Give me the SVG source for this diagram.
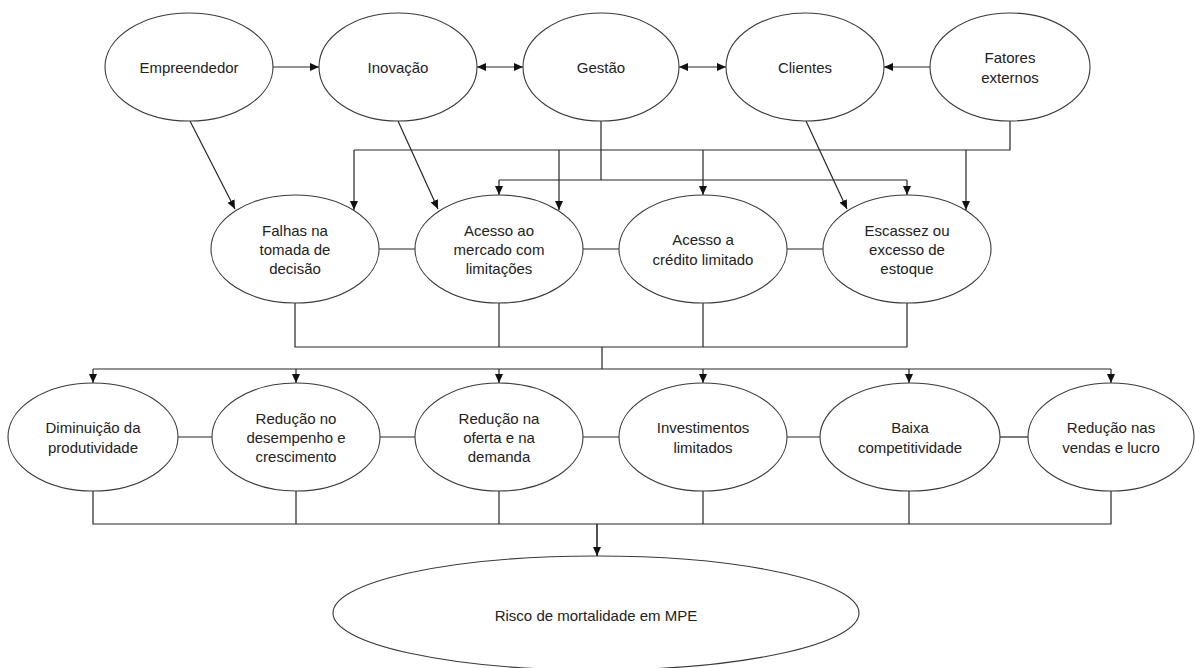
<svg xmlns="http://www.w3.org/2000/svg" width="1195" height="668" viewBox="0 0 1195 668">
<defs>
<marker id="ah" markerWidth="9" markerHeight="8" refX="9" refY="4" orient="auto-start-reverse" markerUnits="userSpaceOnUse">
<path d="M0,0 L9,4 L0,8 Z" fill="#111"/>
</marker>
<style>
.n ellipse{fill:#fff;stroke:#3a3a3a;stroke-width:1.1}
.n text{font-family:"Liberation Sans",Arial,sans-serif;font-size:15px;fill:#222;text-anchor:middle;dominant-baseline:central}
#connectors path,#connectors line{fill:none;stroke:#262626;stroke-width:1.2}
.a{marker-end:url(#ah)}
.b{marker-start:url(#ah);marker-end:url(#ah)}
</style>
</defs>
<rect width="1195" height="668" fill="#fff"/>
<g id="connectors">
<line class="a" x1="273" y1="67" x2="319" y2="67"/>
<line class="b" x1="477" y1="67" x2="523" y2="67"/>
<line class="b" x1="679" y1="67" x2="726" y2="67"/>
<line class="a" x1="930" y1="67" x2="884" y2="67"/>
<line class="a" x1="190" y1="121" x2="235" y2="209"/>
<line class="a" x1="398" y1="121" x2="438" y2="209"/>
<line class="a" x1="806" y1="121" x2="847" y2="209"/>
<path d="M1010,121 V150 H354"/>
<line class="a" x1="354" y1="150" x2="354" y2="210"/>
<line class="a" x1="559" y1="150" x2="559" y2="210"/>
<line class="a" x1="703" y1="150" x2="703" y2="195"/>
<line class="a" x1="966" y1="150" x2="966" y2="210"/>
<path d="M601,121 V180"/>
<line x1="499" y1="180" x2="907" y2="180"/>
<line class="a" x1="499" y1="180" x2="499" y2="195"/>
<line class="a" x1="907" y1="180" x2="907" y2="195"/>
<line x1="379" y1="249" x2="415" y2="249"/>
<line x1="583" y1="249" x2="619" y2="249"/>
<line x1="787" y1="249" x2="823" y2="249"/>
<path d="M295,303 V347 H907 V303"/>
<line x1="499" y1="303" x2="499" y2="347"/>
<line x1="703" y1="303" x2="703" y2="347"/>
<line x1="602" y1="347" x2="602" y2="369"/>
<line x1="93" y1="369" x2="1111" y2="369"/>
<line class="a" x1="93" y1="369" x2="93" y2="383"/>
<line class="a" x1="296" y1="369" x2="296" y2="383"/>
<line class="a" x1="499" y1="369" x2="499" y2="383"/>
<line class="a" x1="703" y1="369" x2="703" y2="383"/>
<line class="a" x1="909" y1="369" x2="909" y2="383"/>
<line class="a" x1="1111" y1="369" x2="1111" y2="383"/>
<line x1="178" y1="437" x2="212" y2="437"/>
<line x1="380" y1="437" x2="415" y2="437"/>
<line x1="583" y1="437" x2="619" y2="437"/>
<line x1="787" y1="437" x2="820" y2="437"/>
<line x1="1000" y1="437" x2="1028" y2="437"/>
<path d="M93,491 V524 H1111 V491"/>
<line x1="296" y1="491" x2="296" y2="524"/>
<line x1="499" y1="491" x2="499" y2="524"/>
<line x1="703" y1="491" x2="703" y2="524"/>
<line x1="909" y1="491" x2="909" y2="524"/>
<line class="a" x1="597" y1="524" x2="597" y2="556" style="stroke-width:1.6"/>
</g>
<g id="empreendedor" class="n"><ellipse cx="189" cy="67" rx="84" ry="54"/><text x="189" y="67">Empreendedor</text></g>
<g id="inovacao" class="n"><ellipse cx="398" cy="67" rx="79" ry="54"/><text x="398" y="67">Inovação</text></g>
<g id="gestao" class="n"><ellipse cx="601" cy="67" rx="78" ry="54"/><text x="601" y="67">Gestão</text></g>
<g id="clientes" class="n"><ellipse cx="805" cy="67" rx="79" ry="54"/><text x="805" y="67">Clientes</text></g>
<g id="fatores" class="n"><ellipse cx="1010" cy="67" rx="80" ry="54"/><text x="1010" y="57">Fatores</text><text x="1010" y="77">externos</text></g>
<g id="falhas" class="n"><ellipse cx="295" cy="249" rx="84" ry="54"/><text x="295" y="230">Falhas na</text><text x="295" y="249">tomada de</text><text x="295" y="268">decisão</text></g>
<g id="mercado" class="n"><ellipse cx="499" cy="249" rx="84" ry="54"/><text x="499" y="230">Acesso ao</text><text x="499" y="249">mercado com</text><text x="499" y="268">limitações</text></g>
<g id="credito" class="n"><ellipse cx="703" cy="249" rx="84" ry="54"/><text x="703" y="239">Acesso a</text><text x="703" y="259">crédito limitado</text></g>
<g id="estoque" class="n"><ellipse cx="907" cy="249" rx="84" ry="54"/><text x="907" y="230">Escassez ou</text><text x="907" y="249">excesso de</text><text x="907" y="268">estoque</text></g>
<g id="produtividade" class="n"><ellipse cx="93" cy="437" rx="85" ry="54"/><text x="93" y="427">Diminuição da</text><text x="93" y="447">produtividade</text></g>
<g id="desempenho" class="n"><ellipse cx="296" cy="437" rx="84" ry="54"/><text x="296" y="418">Redução no</text><text x="296" y="437">desempenho e</text><text x="296" y="456">crescimento</text></g>
<g id="oferta" class="n"><ellipse cx="499" cy="437" rx="84" ry="54"/><text x="499" y="418">Redução na</text><text x="499" y="437">oferta e na</text><text x="499" y="456">demanda</text></g>
<g id="investimentos" class="n"><ellipse cx="703" cy="437" rx="84" ry="54"/><text x="703" y="427">Investimentos</text><text x="703" y="447">limitados</text></g>
<g id="competitividade" class="n"><ellipse cx="910" cy="437" rx="90" ry="54"/><text x="910" y="427">Baixa</text><text x="910" y="447">competitividade</text></g>
<g id="vendas" class="n"><ellipse cx="1111" cy="437" rx="83" ry="54"/><text x="1111" y="427">Redução nas</text><text x="1111" y="447">vendas e lucro</text></g>
<g id="risco" class="n"><ellipse cx="596" cy="613" rx="263" ry="57"/><text x="596" y="615">Risco de mortalidade em MPE</text></g>
</svg>
